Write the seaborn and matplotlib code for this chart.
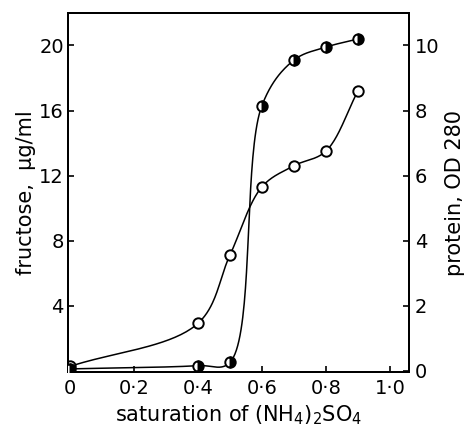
import numpy as np
import matplotlib
matplotlib.use('Agg')
import matplotlib.pyplot as plt
import seaborn as sns

# data
saturation = [0.0, 0.4, 0.5, 0.6, 0.7, 0.8, 0.9]
fructose = [0.25, 2.9, 7.1, 11.3, 12.6, 13.5, 17.2]      # open circles, left axis
protein = [0.05, 0.15, 0.25, 8.15, 9.55, 9.95, 10.2]     # dark circles, right axis

x_ticks = [0, 0.2, 0.4, 0.6, 0.8, 1.0]
x_ticklabels = ['0', '0·2', '0·4', '0·6', '0·8', '1·0']
left_ticks = [4, 8, 12, 16, 20]
right_ticks = [0, 2, 4, 6, 8, 10]

XLIM = (-0.006, 1.06)
LEFT_LIM = (-0.1, 22)
RIGHT_LIM = (-0.05, 11)


def smooth_curve(xs, ys, xlim, ylim, n=40):
    # centripetal Catmull-Rom through the points, done in axes-fraction space
    px = (np.asarray(xs) - xlim[0]) / (xlim[1] - xlim[0])
    py = (np.asarray(ys) - ylim[0]) / (ylim[1] - ylim[0])
    P = np.column_stack([px, py])
    P = np.vstack([2 * P[0] - P[1], P, 2 * P[-1] - P[-2]])
    out = []
    for i in range(1, len(P) - 2):
        p0, p1, p2, p3 = P[i - 1:i + 3]
        t0 = 0.0
        t1 = t0 + np.linalg.norm(p1 - p0) ** 0.5
        t2 = t1 + np.linalg.norm(p2 - p1) ** 0.5
        t3 = t2 + np.linalg.norm(p3 - p2) ** 0.5
        t = np.linspace(t1, t2, n)[:, None]
        a1 = (t1 - t) / (t1 - t0) * p0 + (t - t0) / (t1 - t0) * p1
        a2 = (t2 - t) / (t2 - t1) * p1 + (t - t1) / (t2 - t1) * p2
        a3 = (t3 - t) / (t3 - t2) * p2 + (t - t2) / (t3 - t2) * p3
        b1 = (t2 - t) / (t2 - t0) * a1 + (t - t0) / (t2 - t0) * a2
        b2 = (t3 - t) / (t3 - t1) * a2 + (t - t1) / (t3 - t1) * a3
        c = (t2 - t) / (t2 - t1) * b1 + (t - t1) / (t2 - t1) * b2
        out.append(c)
    C = np.vstack(out)
    cx = C[:, 0] * (xlim[1] - xlim[0]) + xlim[0]
    cy = C[:, 1] * (ylim[1] - ylim[0]) + ylim[0]
    return cx, cy


sns.set_style('ticks')
plt.rcParams['font.family'] = ['DejaVu Sans']
plt.rcParams['text.color'] = 'black'
plt.rcParams['axes.labelcolor'] = 'black'

fig = plt.figure(figsize=(4.67, 4.42), dpi=100)
ax = fig.add_axes([0.1456, 0.158, 0.876 - 0.1456, 0.9706 - 0.158])
ax2 = ax.twinx()

# fructose curve (open markers)
fx, fy = smooth_curve(saturation, fructose, XLIM, LEFT_LIM)
sns.lineplot(x=fx, y=fy, ax=ax, color='black', linewidth=1.1, sort=False, estimator=None)
ax.plot(saturation, fructose, 'o', markersize=7.5, markerfacecolor='white',
        markeredgecolor='black', markeredgewidth=1.4, zorder=5)

# protein curve (dark markers)
px_, py_ = smooth_curve(saturation, protein, XLIM, RIGHT_LIM)
sns.lineplot(x=px_, y=py_, ax=ax2, color='black', linewidth=1.1, sort=False, estimator=None)
ax2.plot(saturation, protein, 'o', markersize=7.5, fillstyle='right',
         markerfacecolor='black', markerfacecoloralt='white',
         markeredgecolor='black', markeredgewidth=1.4, zorder=5)

ax.set_xlim(*XLIM)
ax.set_ylim(*LEFT_LIM)
ax2.set_ylim(*RIGHT_LIM)

ax.set_xticks(x_ticks)
ax.set_xticklabels(x_ticklabels)
ax.set_yticks(left_ticks)
ax2.set_yticks(right_ticks)

for a in (ax, ax2):
    for s in a.spines.values():
        s.set_visible(True)
        s.set_linewidth(1.4)
        s.set_color('black')
    a.tick_params(direction='in', length=4, width=1.2, labelsize=14,
                  colors='black', labelcolor='black')
ax.tick_params(axis='x', pad=5)
ax.tick_params(axis='y', pad=3)
ax2.tick_params(axis='y', pad=4)

ax.set_xlabel('saturation of (NH$_4$)$_2$SO$_4$', fontsize=15, labelpad=4, color='black')
ax.set_ylabel('fructose,  µg/ml', fontsize=15, labelpad=2, color='black')
ax2.set_ylabel('protein, OD 280', fontsize=15, labelpad=4, color='black')

fig.savefig('out.png', dpi=100, facecolor='white')
